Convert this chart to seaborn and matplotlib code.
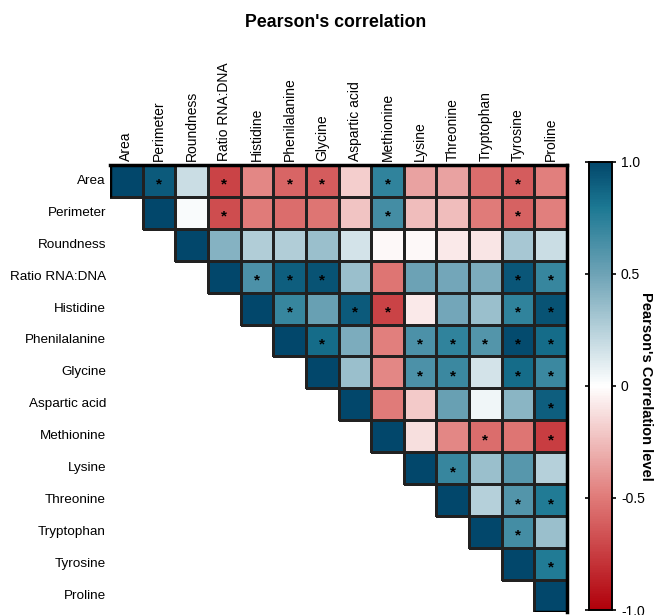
import numpy as np
import pandas as pd
import seaborn as sns
import matplotlib
matplotlib.use("Agg")
import matplotlib.pyplot as plt
from matplotlib.colors import LinearSegmentedColormap

categories = ["Area", "Perimeter", "Roundness", "Ratio RNA:DNA", "Histidine",
              "Phenilalanine", "Glycine", "Aspartic acid", "Methionine", "Lysine",
              "Threonine", "Tryptophan", "Tyrosine", "Proline"]

# upper-triangle rows (from diagonal to the right)
row_area = [1.0, 0.92, 0.18, -0.72, -0.45, -0.58, -0.62, -0.18, 0.72, -0.35, -0.35, -0.55, -0.62, -0.48]
row_perimeter = [1.0, 0.02, -0.68, -0.50, -0.55, -0.52, -0.22, 0.65, -0.25, -0.25, -0.50, -0.60, -0.48]
row_roundness = [1.0, 0.42, 0.27, 0.27, 0.35, 0.15, -0.03, -0.03, -0.08, -0.10, 0.30, 0.18]
row_ratio = [1.0, 0.62, 0.90, 0.95, 0.35, -0.52, 0.50, 0.48, 0.45, 0.93, 0.70]
row_histidine = [1.0, 0.70, 0.52, 0.92, -0.72, -0.08, 0.48, 0.35, 0.72, 0.95]
row_phenilalanine = [1.0, 0.85, 0.45, -0.48, 0.62, 0.72, 0.60, 0.98, 0.85]
row_glycine = [1.0, 0.35, -0.45, 0.62, 0.68, 0.15, 0.85, 0.68]
row_aspartic = [1.0, -0.50, -0.20, 0.52, 0.05, 0.40, 0.90]
row_methionine = [1.0, -0.12, -0.45, -0.55, -0.52, -0.75]
row_lysine = [1.0, 0.70, 0.35, 0.58, 0.25]
row_threonine = [1.0, 0.25, 0.60, 0.78]
row_tryptophan = [1.0, 0.65, 0.35]
row_tyrosine = [1.0, 0.78]
row_proline = [1.0]

# significance flags (1 = asterisk), same layout as rows above
sig_area = [0, 1, 0, 1, 0, 1, 1, 0, 1, 0, 0, 0, 1, 0]
sig_perimeter = [0, 0, 1, 0, 0, 0, 0, 1, 0, 0, 0, 1, 0]
sig_roundness = [0, 0, 0, 0, 0, 0, 0, 0, 0, 0, 0, 0]
sig_ratio = [0, 1, 1, 1, 0, 0, 0, 0, 0, 1, 1]
sig_histidine = [0, 1, 0, 1, 1, 0, 0, 0, 1, 1]
sig_phenilalanine = [0, 1, 0, 0, 1, 1, 1, 1, 1]
sig_glycine = [0, 0, 0, 1, 1, 0, 1, 1]
sig_aspartic = [0, 0, 0, 0, 0, 0, 1]
sig_methionine = [0, 0, 0, 1, 0, 1]
sig_lysine = [0, 1, 0, 0, 0]
sig_threonine = [0, 0, 1, 1]
sig_tryptophan = [0, 1, 0]
sig_tyrosine = [0, 1]
sig_proline = [0]

rows = [row_area, row_perimeter, row_roundness, row_ratio, row_histidine,
        row_phenilalanine, row_glycine, row_aspartic, row_methionine, row_lysine,
        row_threonine, row_tryptophan, row_tyrosine, row_proline]
sigs = [sig_area, sig_perimeter, sig_roundness, sig_ratio, sig_histidine,
        sig_phenilalanine, sig_glycine, sig_aspartic, sig_methionine, sig_lysine,
        sig_threonine, sig_tryptophan, sig_tyrosine, sig_proline]

n = len(categories)
mat = np.full((n, n), np.nan)
ann = np.full((n, n), "", dtype=object)
for i, (r, s) in enumerate(zip(rows, sigs)):
    for k, (v, f) in enumerate(zip(r, s)):
        mat[i, i + k] = v
        ann[i, i + k] = "*" if f else ""
df = pd.DataFrame(mat, index=categories, columns=categories)
mask = np.isnan(mat)

cmap = LinearSegmentedColormap.from_list(
    "pc",
    [(0.0, "#b0000a"), (0.25, "#e07a78"), (0.5, "#ffffff"),
     (0.75, "#6ea3b6"), (0.9, "#1c7893"), (1.0, "#02476b")])

plt.rcParams["font.family"] = ["Liberation Sans", "DejaVu Sans"]
fig = plt.figure(figsize=(6.71, 6.15), dpi=100)
ax = fig.add_axes([0.164, 0.005, 0.681, 0.727])
cax = fig.add_axes([0.878, 0.008, 0.034, 0.729])

sns.heatmap(df, mask=mask, cmap=cmap, vmin=-1, vmax=1, ax=ax, cbar_ax=cax,
            linewidths=0.8, linecolor="#222222", annot=ann, fmt="",
            annot_kws={"color": "black", "fontsize": 11, "fontweight": "bold",
                       "va": "center"})

# hide edges of masked cells
mesh = ax.collections[0]
ec = np.tile(np.array([0.13, 0.13, 0.13, 1.0]), (n * n, 1))
ec[mask.ravel(), 3] = 0.0
mesh.set_edgecolor(ec)

ax.xaxis.tick_top()
ax.set_xticklabels(categories, rotation=90, fontsize=10)
ax.set_yticklabels(categories, rotation=0, fontsize=9.7)
ax.tick_params(axis="both", length=0, pad=3)
ax.set_xlabel("")
ax.set_ylabel("")

for t in ax.texts:
    x, y = t.get_position()
    t.set_position((x, y + 0.12))

# frame
ax.spines["top"].set_visible(True)
ax.spines["right"].set_visible(True)
ax.spines["top"].set_linewidth(2.5)
ax.spines["right"].set_linewidth(2.5)
ax.vlines(0, 0, 1, colors="black", linewidth=2.5)
ax.hlines(n, n - 1, n, colors="black", linewidth=2.5)

cax.set_yticks([-1, -0.5, 0, 0.5, 1])
cax.set_yticklabels(["-1.0", "-0.5", "0", "0.5", "1.0"], fontsize=10)
cax.yaxis.set_ticks_position("both")
cax.tick_params(axis="y", length=3, width=1.2, direction="out", labelright=True, labelleft=False)
for s in cax.spines.values():
    s.set_visible(True)
    s.set_linewidth(1.2)
cax.set_ylabel("Pearson's Correlation level", rotation=-90, labelpad=6,
               fontsize=10.5, fontweight="bold")

fig.suptitle("Pearson's correlation", x=0.5, y=0.978, fontsize=12.8, fontweight="bold")

fig.savefig("out.png", dpi=100)
